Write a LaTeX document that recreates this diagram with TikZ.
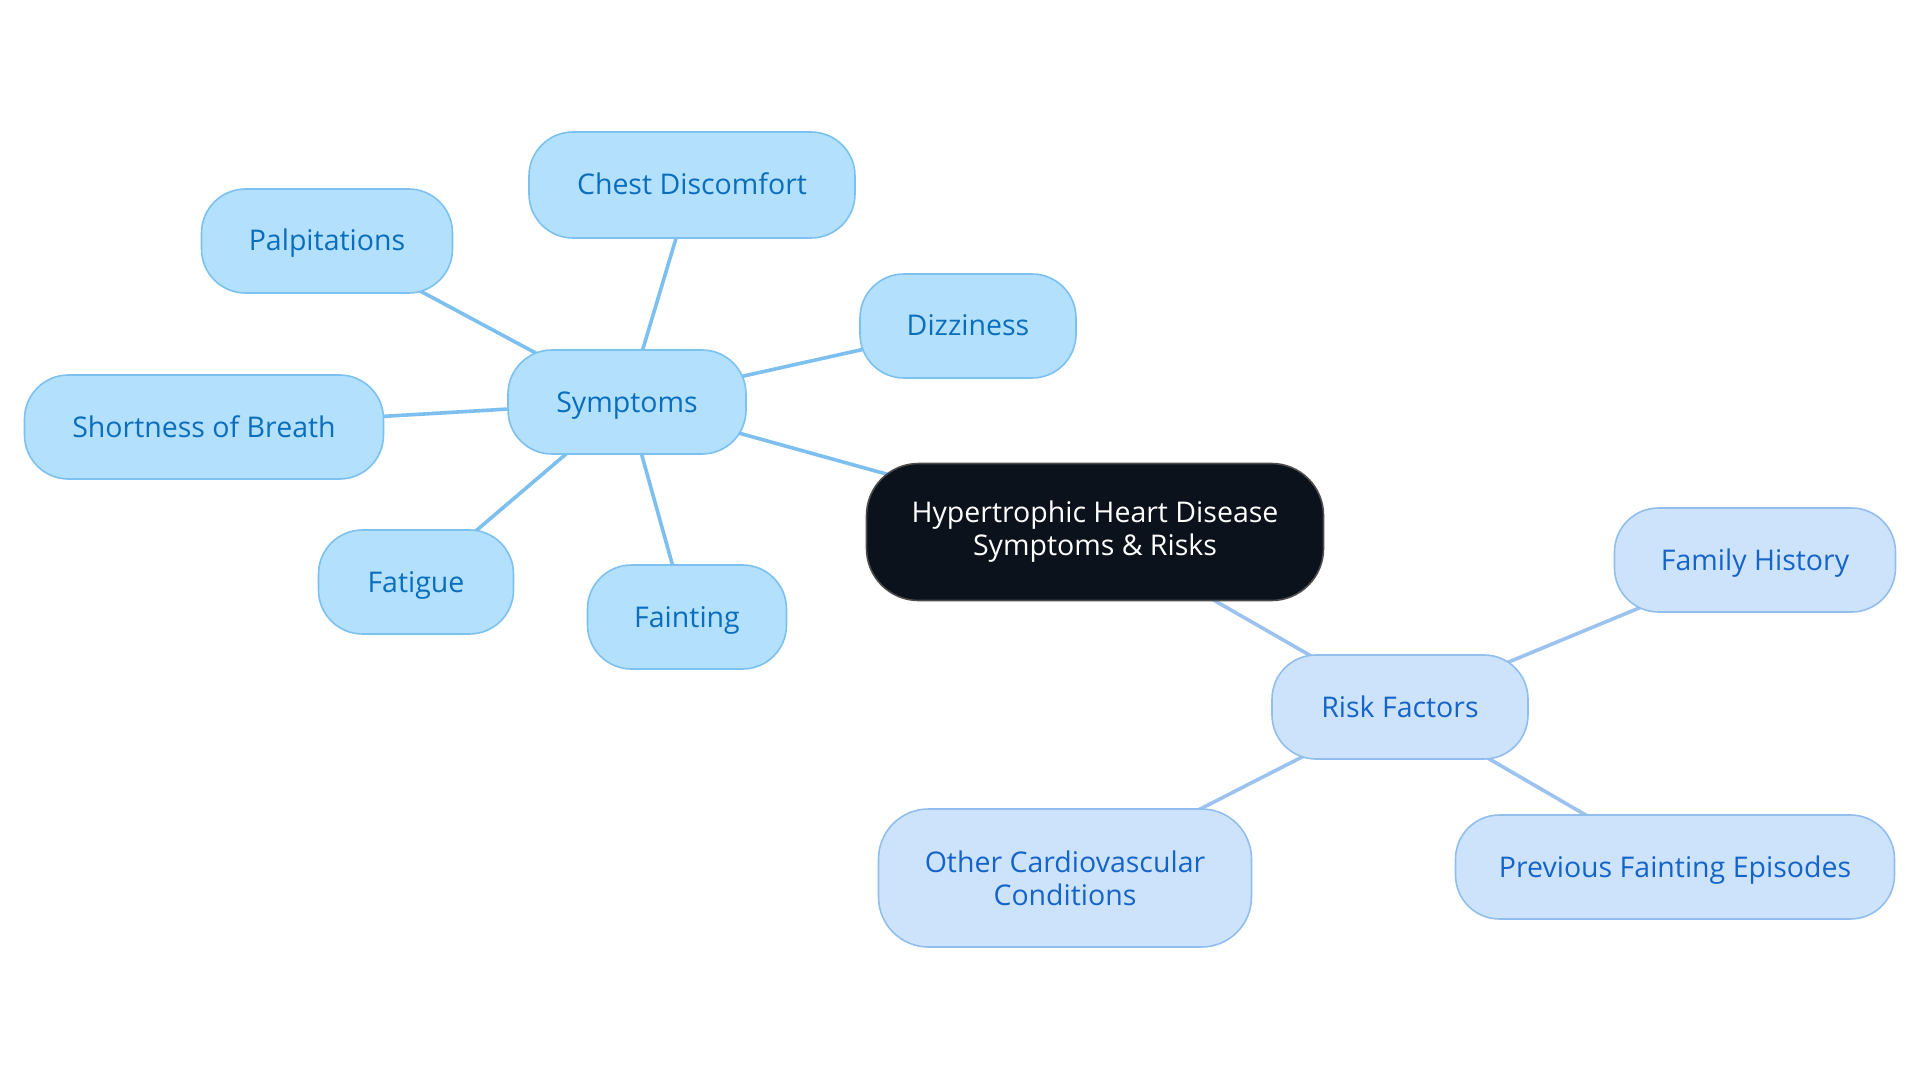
\documentclass[tikz,border=0pt]{standalone}
\usepackage{fontspec}
\setmainfont{Open Sans}
\usetikzlibrary{backgrounds}
\definecolor{symfill}{HTML}{B3E0FD}
\definecolor{symdraw}{HTML}{7CC1F0}
\definecolor{symtext}{HTML}{0A6EBD}
\definecolor{riskfill}{HTML}{CDE3FB}
\definecolor{riskdraw}{HTML}{92BEEE}
\definecolor{risktext}{HTML}{1565C8}
\definecolor{symedge}{HTML}{7DBFEE}
\definecolor{riskedge}{HTML}{9CC3EF}
\definecolor{rootfill}{HTML}{0C121C}
\pgfdeclarelayer{edges}
\pgfsetlayers{background,edges,main}
\tikzset{
  base/.style={rectangle, rounded corners=44pt, inner sep=0pt, line width=1.6pt, align=center,
    font=\fontsize{28.5}{33}\selectfont, minimum height=104pt},
  one/.style={text height=26pt, text depth=6pt},
  symbox/.style={base, one, fill=symfill, draw=symdraw, text=symtext},
  riskbox/.style={base, fill=riskfill, draw=riskdraw, text=risktext},
  rootbox/.style={base, rounded corners=52pt, fill=rootfill, draw=black!70, text=white, minimum height=137pt},
  symline/.style={draw=symedge, line width=3.6pt},
  riskline/.style={draw=riskedge, line width=3.6pt}
}
\begin{document}
\begin{tikzpicture}[x=1pt,y=-1pt]
\begin{pgfonlayer}{background}
\fill[white] (0,0) rectangle (1920,1083);
\end{pgfonlayer}
\useasboundingbox (0,0) rectangle (1920,1083);
\node[rootbox, minimum width=457pt] (root) at (1095,532) {Hypertrophic Heart Disease\\Symptoms \& Risks};
\node[symbox, minimum width=238pt] (sym) at (627,402) {Symptoms};
\node[symbox, minimum width=326pt, minimum height=106pt] (chest) at (692,185) {Chest Discomfort};
\node[symbox, minimum width=251pt] (palp) at (327,241) {Palpitations};
\node[symbox, minimum width=216pt] (dizz) at (968,326) {Dizziness};
\node[symbox, minimum width=359pt] (sob) at (204,427) {Shortness of Breath};
\node[symbox, minimum width=195pt] (fat) at (416,582) {Fatigue};
\node[symbox, minimum width=199pt] (faint) at (687,617) {Fainting};
\node[riskbox, one, minimum width=256pt] (risk) at (1400,707) {Risk Factors};
\node[riskbox, one, minimum width=281pt] (fam) at (1755,560) {Family History};
\node[riskbox, one, minimum width=439pt] (prev) at (1675,867) {Previous Fainting Episodes};
\node[riskbox, minimum width=373pt, minimum height=138pt, rounded corners=50pt] (other) at (1065,878) {Other Cardiovascular\\Conditions};
\begin{pgfonlayer}{edges}
\draw[symline] (root.center) -- (sym.center);
\draw[symline] (sym.center) -- (chest.center);
\draw[symline] (sym.center) -- (palp.center);
\draw[symline] (sym.center) -- (dizz.center);
\draw[symline] (sym.center) -- (sob.center);
\draw[symline] (sym.center) -- (fat.center);
\draw[symline] (sym.center) -- (faint.center);
\draw[riskline] (root.center) -- (risk.center);
\draw[riskline] (risk.center) -- (fam.center);
\draw[riskline] (risk.center) -- (prev.center);
\draw[riskline] (risk.center) -- (other.center);
\end{pgfonlayer}
\end{tikzpicture}
\end{document}
